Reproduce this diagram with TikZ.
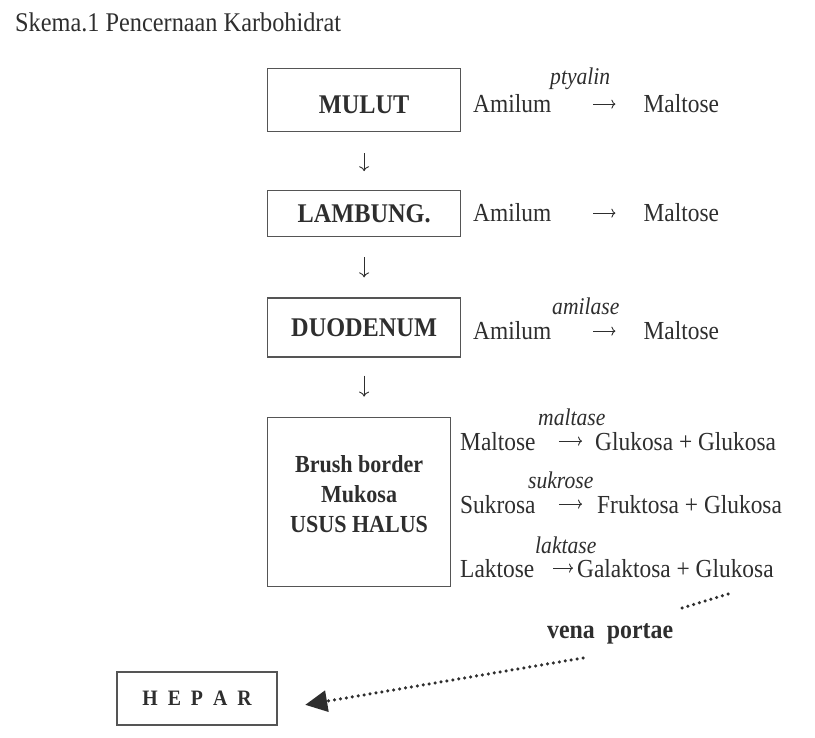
\documentclass[tikz,border=0pt]{standalone}
\usepackage{fontspec}
\setmainfont[FakeStretch=0.9]{Liberation Serif}
\usetikzlibrary{positioning, arrows.meta}
\definecolor{ink}{HTML}{2E2E2E}
\definecolor{frame}{HTML}{555555}

\begin{document}
\begin{tikzpicture}[x=1pt, y=-1pt]
    \tikzset{
        organ/.style = {rectangle, draw=frame, line width=1.2pt, text=ink, inner sep=0pt, minimum width=193pt, font=\fontsize{27}{30}\selectfont\bfseries},
        chem/.style = {text=ink, inner sep=0pt, font=\fontsize{26}{30}\selectfont},
        enzyme/.style = {text=ink, inner sep=0pt, font=\fontsize{24}{28}\selectfont\itshape},
        down/.style = {draw=ink, line width=0.9pt, -{To[length=5pt,width=10pt]}},
        react/.style = {draw=ink, line width=0.9pt, -{To[length=4pt,width=9pt]}},
        blood/.style = {draw=ink, line width=3.5pt, line cap=round, dash pattern=on 0pt off 6pt}
    }
    \useasboundingbox (0,0) rectangle (815,738);

    \node[chem, anchor=base west, font=\fontsize{27}{30}\selectfont](title) at (15,32){Skema.1 Pencernaan Karbohidrat};

    % organ boxes
    \node[organ, minimum height=63pt, text height=27pt, text depth=0pt, anchor=north west](mulut) at (267,68){MULUT};
    \node[organ, minimum height=46pt](lambung)[below = 58pt of mulut]{LAMBUNG.};
    \node[organ, minimum height=59pt](duodenum)[below = 60pt of lambung]{DUODENUM};
    \node[organ, minimum width=183pt, minimum height=169pt, align=center, font=\fontsize{24.5}{30}\selectfont\bfseries](usus)[below = 59pt of duodenum.south west, anchor=north west]{Brush border\\Mukosa\\USUS HALUS\rule[-15pt]{0pt}{15pt}};
    \node[organ, minimum width=160pt, minimum height=53pt, font=\fontsize{22}{26}\selectfont\bfseries](hepar) at (197,698.5){H\hspace{10pt}E\hspace{10pt}P\hspace{10pt}A\hspace{10pt}R};

    \path [down, shorten <=21pt, shorten >=19pt] (mulut) -- (lambung);
    \path [down, shorten <=20pt, shorten >=20pt] (lambung) -- (duodenum);
    \path [down, shorten <=18pt, shorten >=20pt] (duodenum.south) -- (duodenum.south |- usus.north);

    % mulut
    \node[chem, anchor=base west](amilum1) at (473,113){Amilum};
    \node[chem](maltose1)[base right = 92pt of amilum1]{Maltose};
    \node[enzyme, anchor=base west](ptyalin) at (550,85){ptyalin};
    \path [react, shorten <=42pt, shorten >=28pt] (amilum1) -- (maltose1);

    % lambung
    \node[chem, anchor=base west](amilum2) at (473,222){Amilum};
    \node[chem](maltose2)[base right = 92pt of amilum2]{Maltose};
    \path [react, shorten <=42pt, shorten >=28pt] (amilum2) -- (maltose2);

    % duodenum
    \node[chem, anchor=base west](amilum3) at (473,340){Amilum};
    \node[chem](maltose3)[base right = 92pt of amilum3]{Maltose};
    \node[enzyme, anchor=base west](amilase) at (552,315){amilase};
    \path [react, shorten <=42pt, shorten >=28pt] (amilum3) -- (maltose3);

    % usus halus
    \node[chem, anchor=base west](maltose4) at (460,450){Maltose};
    \node[chem, anchor=base west](glukosa4) at (595,450){Glukosa + Glukosa};
    \node[enzyme, anchor=base west](maltase) at (538,425){maltase};
    \path [react, shorten <=23pt, shorten >=13pt] (maltose4) -- (glukosa4);

    \node[chem, anchor=base west](sukrosa) at (460,513){Sukrosa};
    \node[chem, anchor=base west](fruktosa) at (597,513){Fruktosa + Glukosa};
    \node[enzyme, anchor=base west](sukrose) at (528,488){sukrose};
    \path [react, shorten <=23pt, shorten >=15pt] (sukrosa) -- (fruktosa);

    \node[chem, anchor=base west](laktose) at (460,577){Laktose};
    \node[chem, anchor=base west](galaktosa) at (577,577){Galaktosa + Glukosa};
    \node[enzyme, anchor=base west](laktase) at (535,553){laktase};
    \path [react, shorten <=19pt, shorten >=4pt] (laktose) -- (galaktosa);

    % vena portae
    \node[chem, anchor=base west, font=\fontsize{26.5}{30}\selectfont\bfseries](vena) at (547,638){vena\hspace{12pt}portae};
    \coordinate (vstart) at (728,594);
    \coordinate (vstop) at (682,608);
    \coordinate (vgo) at (583,658);
    \draw [blood] (vstart) -- (vstop);
    \draw [blood, -{Triangle[length=22pt,width=21pt]}, shorten >=28pt] (vgo) -- ([yshift=-11pt]hepar.east);

\end{tikzpicture}
\end{document}
